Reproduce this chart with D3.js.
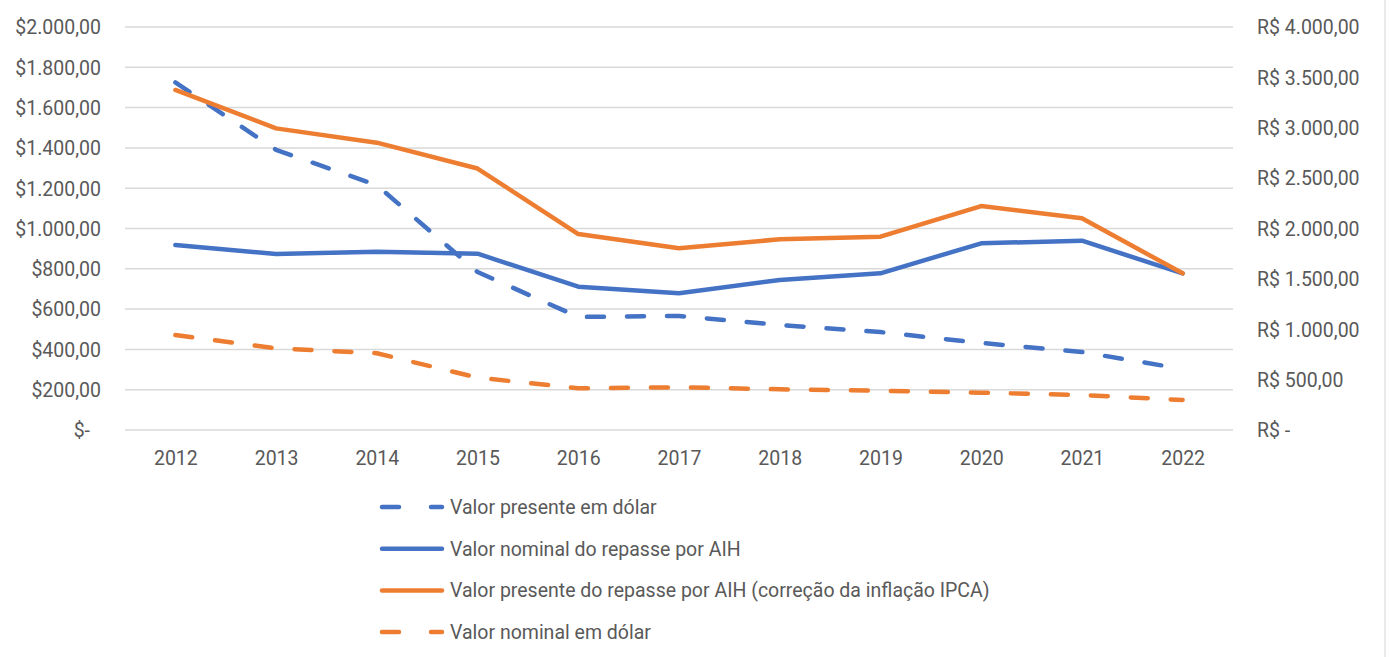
<!DOCTYPE html>
<html>
<head>
<meta charset="utf-8">
<script src="https://d3js.org/d3.v7.min.js"></script>
<style>
  html, body { margin: 0; background: #fff; overflow: hidden; }
  text { font-family: Roboto, "Open Sans", sans-serif; fill: #595959; }
</style>
</head>
<body>
<svg width="1389" height="657"></svg>
<script>
const years = ["2012","2013","2014","2015","2016","2017","2018","2019","2020","2021","2022"];

// eixo esquerdo (US$)
const presenteDolar = [1725, 1390, 1215, 784, 561, 566, 521, 486, 432, 387, 303];
const nominalDolar  = [471, 405, 381, 260, 207, 212, 202, 195, 185, 174, 149];
// eixo direito (R$)
const nominalAIH  = [1836, 1747, 1770, 1750, 1422, 1357, 1489, 1555, 1853, 1879, 1555];
const presenteAIH = [3375, 2994, 2852, 2595, 1945, 1803, 1893, 1919, 2223, 2101, 1555];

const leftTicks  = [0, 200, 400, 600, 800, 1000, 1200, 1400, 1600, 1800, 2000];
const rightTicks = [0, 500, 1000, 1500, 2000, 2500, 3000, 3500, 4000];

const BLUE = "#4472C4", ORANGE = "#ED7D31";
const FS = "19.5px";

const svg = d3.select("svg");
const plotL = 125, plotR = 1233, plotT = 27, plotB = 430;

const x = d3.scalePoint().domain(years).range([plotL, plotR]).padding(0.5);
const yL = d3.scaleLinear().domain([0, 2000]).range([plotB, plotT]);
const yR = d3.scaleLinear().domain([0, 4000]).range([plotB, plotT]);

// formato pt-BR
const fmt = v => v.toFixed(2).replace(".", ",").replace(/\B(?=(\d{3})+(?!\d))/g, ".");

// grade
svg.append("g").selectAll("line").data(leftTicks).enter().append("line")
  .attr("x1", plotL).attr("x2", plotR)
  .attr("y1", d => yL(d)).attr("y2", d => yL(d))
  .attr("stroke", "#d9d9d9").attr("stroke-width", 1.5);

// borda direita
svg.append("line").attr("x1", 1385).attr("x2", 1385).attr("y1", 0).attr("y2", 657)
  .attr("stroke", "#e3e3e3").attr("stroke-width", 1.5);

// eixo esquerdo
const la = svg.append("g").attr("transform", `translate(${101},0)`)
  .call(d3.axisLeft(yL).tickValues(leftTicks).tickSize(0).tickPadding(0)
    .tickFormat(d => d === 0 ? "$-" : "$" + fmt(d)));
la.select(".domain").remove();
la.selectAll("text").style("font-size", FS).attr("dy", "0.35em").attr("fill", "#595959")
  .attr("dx", d => d === 0 ? -11 : 0);

// eixo direito
const ra = svg.append("g").attr("transform", `translate(${1257},0)`)
  .call(d3.axisRight(yR).tickValues(rightTicks).tickSize(0).tickPadding(0)
    .tickFormat(d => d === 0 ? "R$ -" : "R$ " + fmt(d)));
ra.select(".domain").remove();
ra.selectAll("text").style("font-size", FS).attr("dy", "0.35em").attr("fill", "#595959");

// eixo x
const xa = svg.append("g").attr("transform", `translate(0,${plotB})`)
  .call(d3.axisBottom(x).tickSize(0).tickPadding(21));
xa.select(".domain").remove();
xa.selectAll("text").style("font-size", FS).attr("fill", "#595959");

const series = [
  { name: "Valor presente em dólar", values: presenteDolar, y: yL, color: BLUE, dash: "17,23" },
  { name: "Valor nominal em dólar", values: nominalDolar, y: yL, color: ORANGE, dash: "17,23" },
  { name: "Valor nominal do repasse por AIH", values: nominalAIH, y: yR, color: BLUE, dash: null },
  { name: "Valor presente do repasse por AIH (correção da inflação IPCA)", values: presenteAIH, y: yR, color: ORANGE, dash: null }
];

series.forEach(s => {
  const line = d3.line().x((d, i) => x(years[i])).y(d => s.y(d));
  svg.append("path").datum(s.values)
    .attr("d", line)
    .attr("fill", "none")
    .attr("stroke", s.color)
    .attr("stroke-width", 4.5)
    .attr("stroke-linejoin", "round")
    .attr("stroke-linecap", "round")
    .attr("stroke-dasharray", s.dash);
});

// legenda
const legendOrder = [series[0], series[2], series[3], series[1]];
const lg = svg.append("g").selectAll("g").data(legendOrder).enter().append("g")
  .attr("transform", (d, i) => `translate(380,${507 + i * 41.7})`);
lg.append("line")
  .attr("x1", 2).attr("x2", 62).attr("y1", 0).attr("y2", 0)
  .attr("stroke", d => d.color).attr("stroke-width", 4.5)
  .attr("stroke-linecap", "round")
  .attr("stroke-dasharray", d => d.dash ? "17,32" : null);
lg.append("text").attr("x", 70).attr("dy", "0.35em")
  .style("font-size", FS).text(d => d.name);
</script>
</body>
</html>
